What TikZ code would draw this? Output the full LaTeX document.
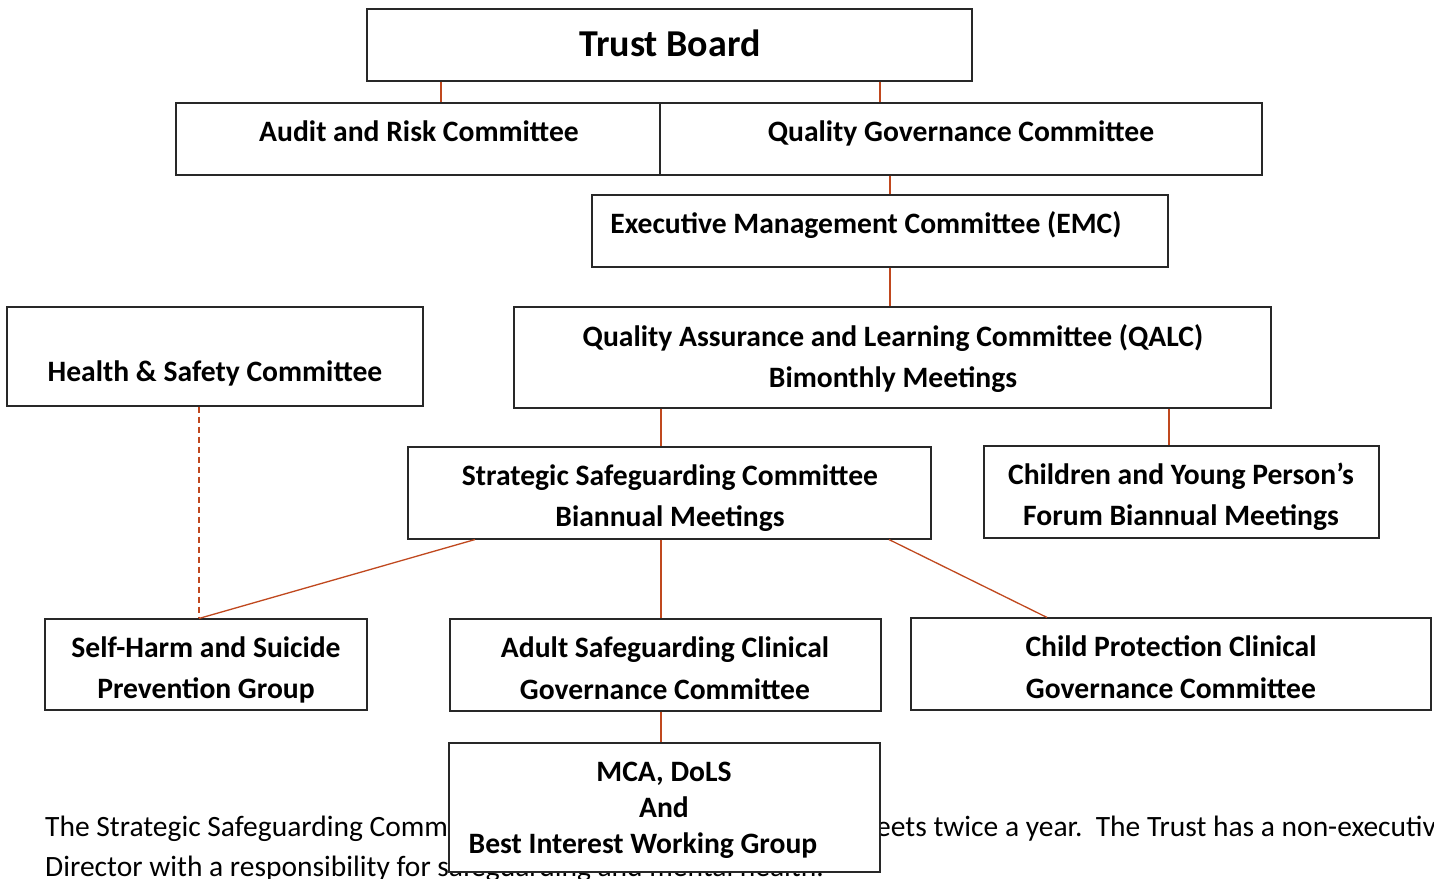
\documentclass[tikz,border=0pt]{standalone}
\usepackage{fontspec}
\setmainfont{Carlito}
\definecolor{conn}{RGB}{192,72,30}
\definecolor{boxline}{RGB}{40,40,40}
\begin{document}
\begin{tikzpicture}[x=1pt,y=-1pt,
  box/.style={draw=boxline,line width=1.1pt,fill=white,rectangle,inner sep=0pt},
  lbl/.style={font=\fontsize{29.6}{41}\selectfont\bfseries,anchor=base,inner sep=0pt},
  body/.style={font=\fontsize{29.5}{40}\selectfont,anchor=base west,inner sep=0pt},
  conn/.style={draw=conn,line width=1.3pt},
  dconn/.style={conn,dash pattern=on 6pt off 4pt}]
\useasboundingbox (0,0) rectangle (1434,878);
\fill[white] (0,0) rectangle (1434,878);
% body text (behind boxes)
\node[body] (p1a) at (45,836) {The Strategic Safeguarding Comm};
\node[body] (p1b) at (876,836) {eets twice a year.\ \ The Trust has a non-executive};
\node[body] (p2) at (45,876) {Director with a responsibility for safeguarding and mental health.};
% boxes
\node[box,minimum width=605,minimum height=72] (tb) at (669.5,45) {};
\node[box,minimum width=484,minimum height=72] (ar) at (418,139) {};
\node[box,minimum width=602,minimum height=72] (qg) at (961,139) {};
\node[box,minimum width=576,minimum height=72] (emc) at (880,231) {};
\node[box,minimum width=416,minimum height=99] (hs) at (215,356.5) {};
\node[box,minimum width=757,minimum height=101] (qalc) at (892.5,357.5) {};
\node[box,minimum width=523,minimum height=92] (ssc) at (669.5,493) {};
\node[box,minimum width=395,minimum height=92] (cyp) at (1181.5,492) {};
\node[box,minimum width=322,minimum height=91] (sh) at (206,664.5) {};
\node[box,minimum width=431,minimum height=92] (asc) at (665.5,665) {};
\node[box,minimum width=520,minimum height=92] (cpc) at (1171,664) {};
% labels
\node[lbl,font=\fontsize{38}{44}\selectfont\bfseries] (tbt) at (670,56) {Trust Board};
\node[lbl] (art) at (419,141) {Audit and Risk Committee};
\node[lbl] (qgt) at (961,141) {Quality Governance Committee};
\node[lbl] (emct) at (866,233) {Executive Management Committee (EMC)};
\node[lbl] (hst) at (215,381) {Health \& Safety Committee};
\node[lbl] (qalct1) at (893,346) {Quality Assurance and Learning Committee (QALC)};
\node[lbl] (qalct2) at (893,387) {Bimonthly Meetings};
\node[lbl] (ssct1) at (670,485) {Strategic Safeguarding Committee};
\node[lbl] (ssct2) at (670,526) {Biannual Meetings};
\node[lbl] (cypt1) at (1181,484) {Children and Young Person’s};
\node[lbl] (cypt2) at (1181,525) {Forum Biannual Meetings};
\node[lbl] (sht1) at (206,657) {Self-Harm and Suicide};
\node[lbl] (sht2) at (206,698) {Prevention Group};
\node[lbl] (asct1) at (665,657) {Adult Safeguarding Clinical};
\node[lbl] (asct2) at (665,699) {Governance Committee};
\node[lbl] (cpct1) at (1171,656) {Child Protection Clinical};
\node[lbl] (cpct2) at (1171,698) {Governance Committee};
% MCA box covers body text
\node[box,minimum width=431,minimum height=129] (mca) at (664.5,807.5) {};
\node[lbl] (mcat1) at (664,781) {MCA, DoLS};
\node[lbl] (mcat2) at (664,817) {And};
\node[lbl] (mcat3) at (643,853) {Best Interest Working Group};
% connectors
\draw[conn] (tb.south -| 441,0) -- (ar.north -| 441,0);
\draw[conn] (tb.south -| 880,0) -- (qg.north -| 880,0);
\draw[conn] (qg.south -| 890,0) -- (emc.north -| 890,0);
\draw[conn] (emc.south -| 890,0) -- (qalc.north -| 890,0);
\draw[conn] (qalc.south -| 661,0) -- (ssc.north -| 661,0);
\draw[conn] (qalc.south -| 1169,0) -- (cyp.north -| 1169,0);
\draw[conn] (ssc.south -| 475,0) -- (sh.north -| 199,0);
\draw[conn] (ssc.south -| 661,0) -- (asc.north -| 661,0);
\draw[conn] (ssc.south -| 889,0) -- (cpc.north -| 1047,0);
\draw[dconn] (hs.south -| 199,0) -- (sh.north -| 199,0);
\draw[conn] (asc.south -| 661,0) -- (mca.north -| 661,0);
\end{tikzpicture}
\end{document}
